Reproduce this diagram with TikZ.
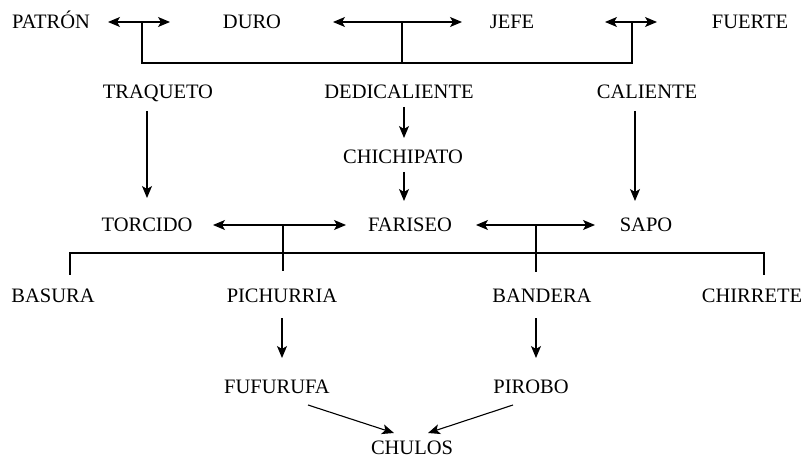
\documentclass[tikz,border=0pt]{standalone}
\usepackage{fontspec}
\setmainfont{Liberation Serif}
\usetikzlibrary{arrows.meta}
\begin{document}
\begin{tikzpicture}[x=1pt,y=1pt,
  word/.style={inner sep=0pt,text height=13pt,text depth=0pt,font=\fontsize{20.5}{24}\selectfont},
  ln/.style={line width=1.1pt},
  arr/.style={ln,-{Stealth[length=12pt,width=10pt,inset=3pt]}},
  darr/.style={ln,{Stealth[length=12pt,width=10pt,inset=3pt]}-{Stealth[length=12pt,width=10pt,inset=3pt]}}]
\useasboundingbox (0,0) rectangle (811,-462);
% row 1
\node[word] (patron) at (51,-22) {PATRÓN};
\node[word] (duro) at (252,-22) {DURO};
\node[word] (jefe) at (512,-22) {JEFE};
\node[word] (fuerte) at (750,-22) {FUERTE};
% row 2
\node[word] (traqueto) at (158,-92) {TRAQUETO};
\node[word] (dedi) at (399,-92) {DEDICALIENTE};
\node[word] (caliente) at (647,-92) {CALIENTE};
\node[word] (chichi) at (403,-157) {CHICHIPATO};
% row 4
\node[word] (torcido) at (147,-225) {TORCIDO};
\node[word] (fariseo) at (410,-225) {FARISEO};
\node[word] (sapo) at (646,-225) {SAPO};
% row 5
\node[word] (basura) at (53,-296) {BASURA};
\node[word] (pichurria) at (282,-296) {PICHURRIA};
\node[word] (bandera) at (542,-296) {BANDERA};
\node[word] (chirrete) at (752,-296) {CHIRRETE};
% row 6
\node[word] (fufu) at (277,-387) {FUFURUFA};
\node[word] (pirobo) at (531,-387) {PIROBO};
\node[word] (chulos) at (412,-448) {CHULOS};

% row 1 arrows and bracket
\coordinate (a1l) at (108,-22); \coordinate (a1r) at (170,-22);
\coordinate (a2l) at (333,-22); \coordinate (a2r) at (462,-22);
\coordinate (a3l) at (605,-22); \coordinate (a3r) at (657,-22);
\draw[darr] (a1l) -- (a1r);
\draw[darr] (a2l) -- (a2r);
\draw[darr] (a3l) -- (a3r);
\coordinate (b1) at (142,-22); \coordinate (b2) at (402,-22); \coordinate (b3) at (632,-22);
\coordinate (k1) at (142,-63); \coordinate (k2) at (402,-63); \coordinate (k3) at (632,-63);
\draw[ln] (b1) -- (k1) -- (k3) -- (b3);
\draw[ln] (b2) -- (k2);

% vertical arrows
\coordinate (t1) at (147,-111); \coordinate (t2) at (147,-198);
\draw[arr] (t1) -- (t2);
\coordinate (d1) at (404,-107); \coordinate (d2) at (404,-138);
\draw[arr] (d1) -- (d2);
\coordinate (e1) at (404,-172); \coordinate (e2) at (404,-201);
\draw[arr] (e1) -- (e2);
\coordinate (s1) at (635,-111); \coordinate (s2) at (635,-201);
\draw[arr] (s1) -- (s2);

% row 4 arrows and bracket
\coordinate (c1l) at (213,-225); \coordinate (c1r) at (346,-225);
\coordinate (c2l) at (476,-225); \coordinate (c2r) at (595,-225);
\draw[darr] (c1l) -- (c1r);
\draw[darr] (c2l) -- (c2r);
\coordinate (m1) at (283,-225); \coordinate (m1b) at (283,-271);
\coordinate (m2) at (536,-225); \coordinate (m2b) at (536,-272);
\draw[ln] (m1) -- (m1b);
\draw[ln] (m2) -- (m2b);
\coordinate (h1) at (70,-275); \coordinate (h2) at (70,-253);
\coordinate (h3) at (764,-253); \coordinate (h4) at (764,-275);
\draw[ln] (h1) -- (h2) -- (h3) -- (h4);

% lower arrows
\coordinate (p1) at (282,-318); \coordinate (p2) at (282,-358);
\draw[arr] (p1) -- (p2);
\coordinate (q1) at (536,-318); \coordinate (q2) at (536,-358);
\draw[arr] (q1) -- (q2);
\coordinate (f1) at (308,-405); \coordinate (f2) at (394,-433);
\draw[arr] (f1) -- (f2);
\coordinate (r1) at (513,-405); \coordinate (r2) at (428,-433);
\draw[arr] (r1) -- (r2);
\end{tikzpicture}
\end{document}
